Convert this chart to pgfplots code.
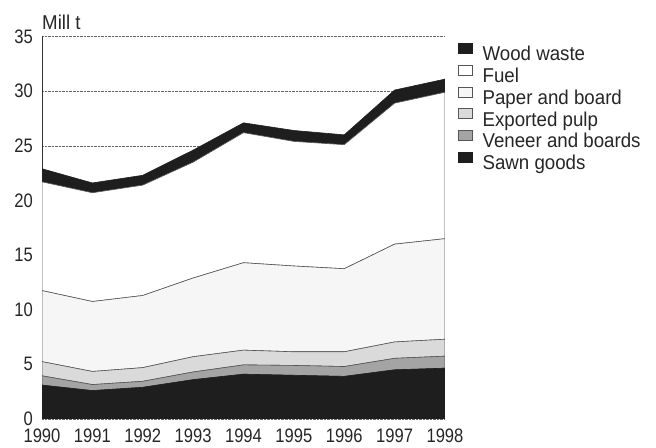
\documentclass[border=0pt]{standalone}
\usepackage{pgfplots}
\pgfplotsset{compat=1.18}
\usepackage{pgfplotstable}
\usepackage{fontspec}
\setmainfont{Liberation Sans}[FakeStretch=0.935]
\newfontfamily\tickfont{Liberation Sans}[FakeStretch=0.85]
\definecolor{dk}{HTML}{1E1E1E}
\definecolor{ven}{HTML}{A4A4A4}
\definecolor{pulp}{HTML}{DADADA}
\definecolor{paper}{HTML}{F6F6F6}
\definecolor{edge}{HTML}{555555}
\pgfplotstableread{
year sawn veneer pulp paper fuel waste
1990 3.1 0.85 1.3 6.5 9.95 1.2
1991 2.6 0.55 1.2 6.4 9.95 0.9
1992 2.9 0.55 1.25 6.6 10.1 0.9
1993 3.6 0.7 1.4 7.2 10.6 1.1
1994 4.1 0.85 1.35 8.0 11.9 0.9
1995 4.0 0.9 1.25 7.85 11.4 1.0
1996 3.9 0.9 1.35 7.6 11.35 0.9
1997 4.5 1.05 1.5 8.95 12.9 1.2
1998 4.65 1.1 1.55 9.2 13.4 1.2
}\data
\begin{document}
\fontsize{20bp}{22bp}\selectfont
\begin{tikzpicture}
\path[use as bounding box] (0,0) rectangle (656bp,448bp);
\begin{axis}[
  name=ax,
  at={(42bp,29bp)}, anchor=south west,
  scale only axis, width=403bp, height=382.5bp,
  xmin=1990, xmax=1998, ymin=0, ymax=35,
  xtick={1990,1991,...,1998}, ytick={0,5,...,35},
  /pgf/number format/1000 sep={},
  /pgf/number format/assume math mode=true,
  tick label style={font=\tickfont\fontsize{19.5bp}{22bp}\selectfont, text=black!85},
  xticklabel style={inner sep=0pt, yshift=-10bp},
  yticklabel style={inner sep=0pt, xshift=-9bp},
  major tick length=0pt,
  axis y line*=left, axis x line*=bottom,
  x axis line style={draw=none},
  y axis line style={-, draw=black!80, line width=0.9bp},
  ymajorgrids, grid style={densely dotted, black!60, line width=0.5bp},
  stack plots=y,
  every axis plot/.append style={line width=0.6bp},
  reverse legend,
  legend cell align=left,
  legend style={at={(1,1)}, anchor=north west, xshift=13bp, yshift=-6.5bp,
    draw=none, fill=none, inner sep=0pt, outer sep=0pt,
    column sep=10bp, row sep=0bp,
    nodes={inner sep=0pt, text height=14bp, text depth=4bp, text=black!85,
      font=\fontsize{20bp}{22bp}\selectfont}},
  legend image code/.code={\draw[#1, line width=0.6bp] (0bp,2.5bp) rectangle (14bp,12.5bp);},
]
\addplot[fill=dk, draw=dk] table[x=year,y=sawn] {\data} \closedcycle;
\addlegendentry{Sawn goods}
\addplot[fill=ven, draw=edge] table[x=year,y=veneer] {\data} \closedcycle;
\addlegendentry{Veneer and boards}
\addplot[fill=pulp, draw=edge] table[x=year,y=pulp] {\data} \closedcycle;
\addlegendentry{Exported pulp}
\addplot[fill=paper, draw=edge] table[x=year,y=paper] {\data} \closedcycle;
\addlegendentry{Paper and board}
\addplot[fill=white, draw=edge] table[x=year,y=fuel] {\data} \closedcycle;
\addlegendentry{Fuel}
\addplot[fill=dk, draw=dk] table[x=year,y=waste] {\data} \closedcycle;
\addlegendentry{Wood waste}
\end{axis}
\node[anchor=base west, inner sep=0pt, text=black!85] at ([yshift=6.5bp]ax.north west) {Mill t};
\end{tikzpicture}
\end{document}
